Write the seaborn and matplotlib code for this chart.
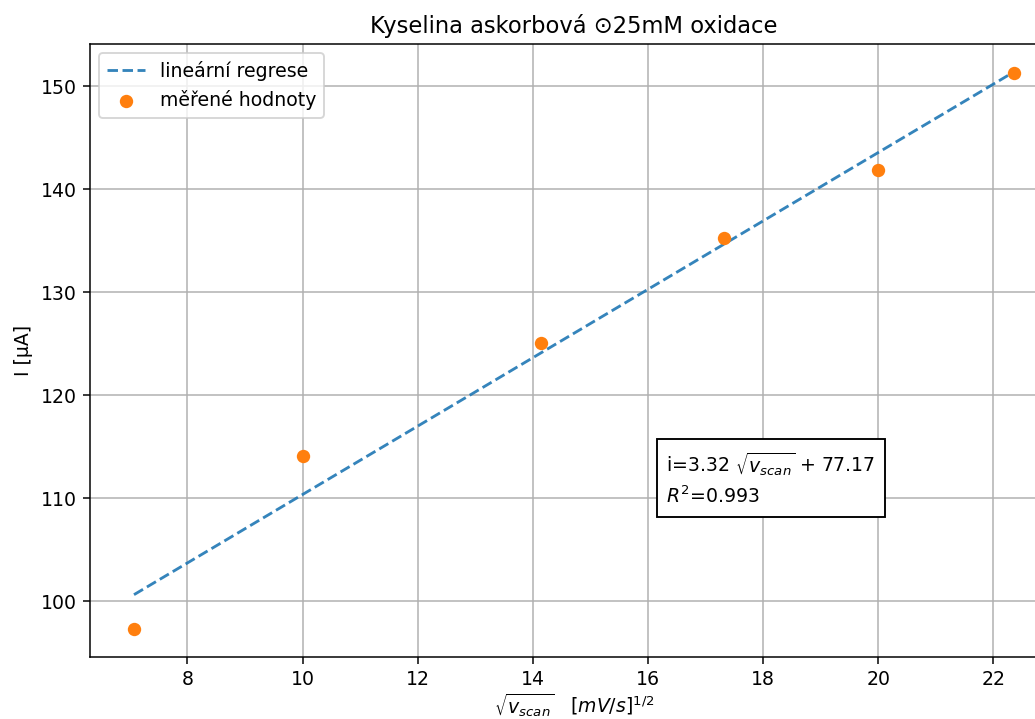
import numpy as np
import seaborn as sns
import matplotlib.pyplot as plt

# measured points: sqrt of scan rate vs. peak current
scan_rate = [50, 100, 200, 300, 400, 500]  # mV/s
current = [97.3, 114.1, 125.1, 135.3, 141.9, 151.3]  # uA

# linear fit reported on the chart
slope = 3.32
intercept = 77.17
r_squared = 0.993

x = np.sqrt(np.array(scan_rate, dtype=float))
y_fit = slope * x + intercept

dpi = 136
fig = plt.figure(figsize=(1035 / dpi, 719 / dpi), dpi=dpi)
# axes run a bit past the right edge of the canvas, like the reference
ax = fig.add_axes([90 / 1035, 62 / 719, 968 / 1035, 613 / 719])

sns.lineplot(x=x, y=y_fit, ax=ax, linestyle='--', color='#1f77b4', alpha=0.9,
             label='lineární regrese')
sns.scatterplot(x=x, y=current, ax=ax, color='#ff7f0e', s=50, linewidth=0,
                label='měřené hodnoty', zorder=3)

ax.grid(True)
ax.set_title('Kyselina askorbová \u229925mM oxidace')
ax.set_xlabel(r'$\sqrt{v_{scan}}$   $[mV/s]^{1/2}$', labelpad=1)
ax.set_ylabel('I [μA]')
ax.legend(loc='upper left')

ax.text(16.32, 111.9,
        'i=%.2f $\\sqrt{v_{scan}}$ + %.2f\n$R^2$=%.3f' % (slope, intercept, r_squared),
        ha='left', va='center', linespacing=1.45,
        bbox=dict(boxstyle='square,pad=0.5', facecolor='white', edgecolor='black'))

fig.savefig('out.png', dpi=dpi)
